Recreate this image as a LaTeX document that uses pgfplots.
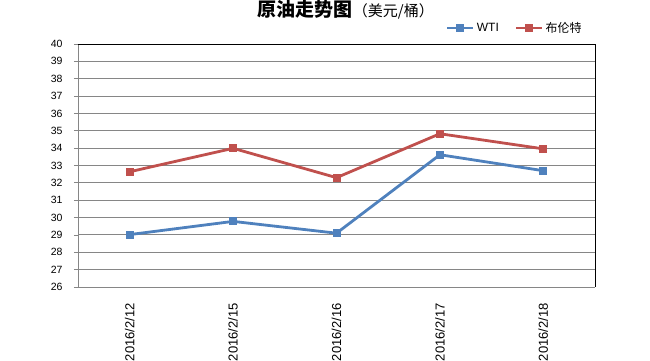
\documentclass[border=0pt]{standalone}
\usepackage{pgfplots}
\pgfplotsset{compat=1.18}
\usepackage{fontspec}
\setmainfont{Liberation Sans}
\newfontfamily\cjk{Noto Sans CJK SC}
\definecolor{wti}{RGB}{79,129,189}
\definecolor{brent}{RGB}{192,80,77}
\definecolor{gridc}{RGB}{134,134,134}
\begin{document}
\begin{tikzpicture}
\useasboundingbox (0pt,0pt) rectangle (650pt,360pt);
\begin{axis}[
  at={(78pt,73pt)}, anchor=south west,
  scale only axis, width=517pt, height=243pt,
  xmin=-0.5, xmax=4.5, ymin=26, ymax=40,
  ytick={26,...,40},
  xtick={0,1,2,3,4},
  xticklabels={2016/2/12,2016/2/15,2016/2/16,2016/2/17,2016/2/18},
  x tick label style={yshift=-12pt, rotate=90, anchor=east, font=\fontsize{13}{13}\selectfont, inner sep=0pt},
  y tick label style={font=\fontsize{10.5}{10.5}\selectfont, xshift=-8pt},
  /pgf/number format/assume math mode=true,
  major x tick style={draw=none},
  extra x ticks={0.5,1.5,2.5,3.5},
  extra x tick labels={},
  extra x tick style={major tick length=5pt, tick style={draw=gridc, line width=0.8pt}, tick align=outside, xmajorgrids=false},
  ytick style={draw=gridc, line width=0.8pt},
  major tick length=4pt,
  tick align=outside,
  axis x line*=bottom, axis y line*=left,
  axis line style={draw=gridc, line width=0.8pt, -},
  ymajorgrids, grid style={draw=gridc, line width=0.9pt},
  clip=false,
  title={{\cjk\bfseries\fontsize{19}{19}\selectfont 原油走势图}{\cjk\fontsize{15}{15}\selectfont （美元/桶）}},
  title style={at={(0.518,1.118)}, anchor=center, inner sep=0pt},
  legend style={at={(0.845,1.066)}, anchor=center, draw=none, fill=none,
    font=\cjk\fontsize{12}{12}\selectfont, legend columns=2,
    /tikz/every even column/.append style={column sep=14pt}},
  legend cell align=left,
  legend image code/.code={\draw[#1] (0pt,0pt) -- (26pt,0pt); \draw[#1, only marks] plot coordinates {(13pt,0pt)};},
]
\addplot[wti, line width=2.8pt, mark=square*, mark size=3.5pt, mark options={solid, line width=0pt}] coordinates {
  (0,29.02) (1,29.78) (2,29.10) (3,33.62) (4,32.70)};
\addlegendentry{\fontfamily{\rmdefault}\selectfont WTI}
\addplot[brent, line width=2.8pt, mark=square*, mark size=3.5pt, mark options={solid, line width=0pt}] coordinates {
  (0,32.64) (1,33.99) (2,32.30) (3,34.83) (4,33.96)};
\addlegendentry{布伦特}
\draw[black, line width=1pt] (rel axis cs:0,1) -- (rel axis cs:1,1) -- (rel axis cs:1,0);
\end{axis}
\end{tikzpicture}
\end{document}
